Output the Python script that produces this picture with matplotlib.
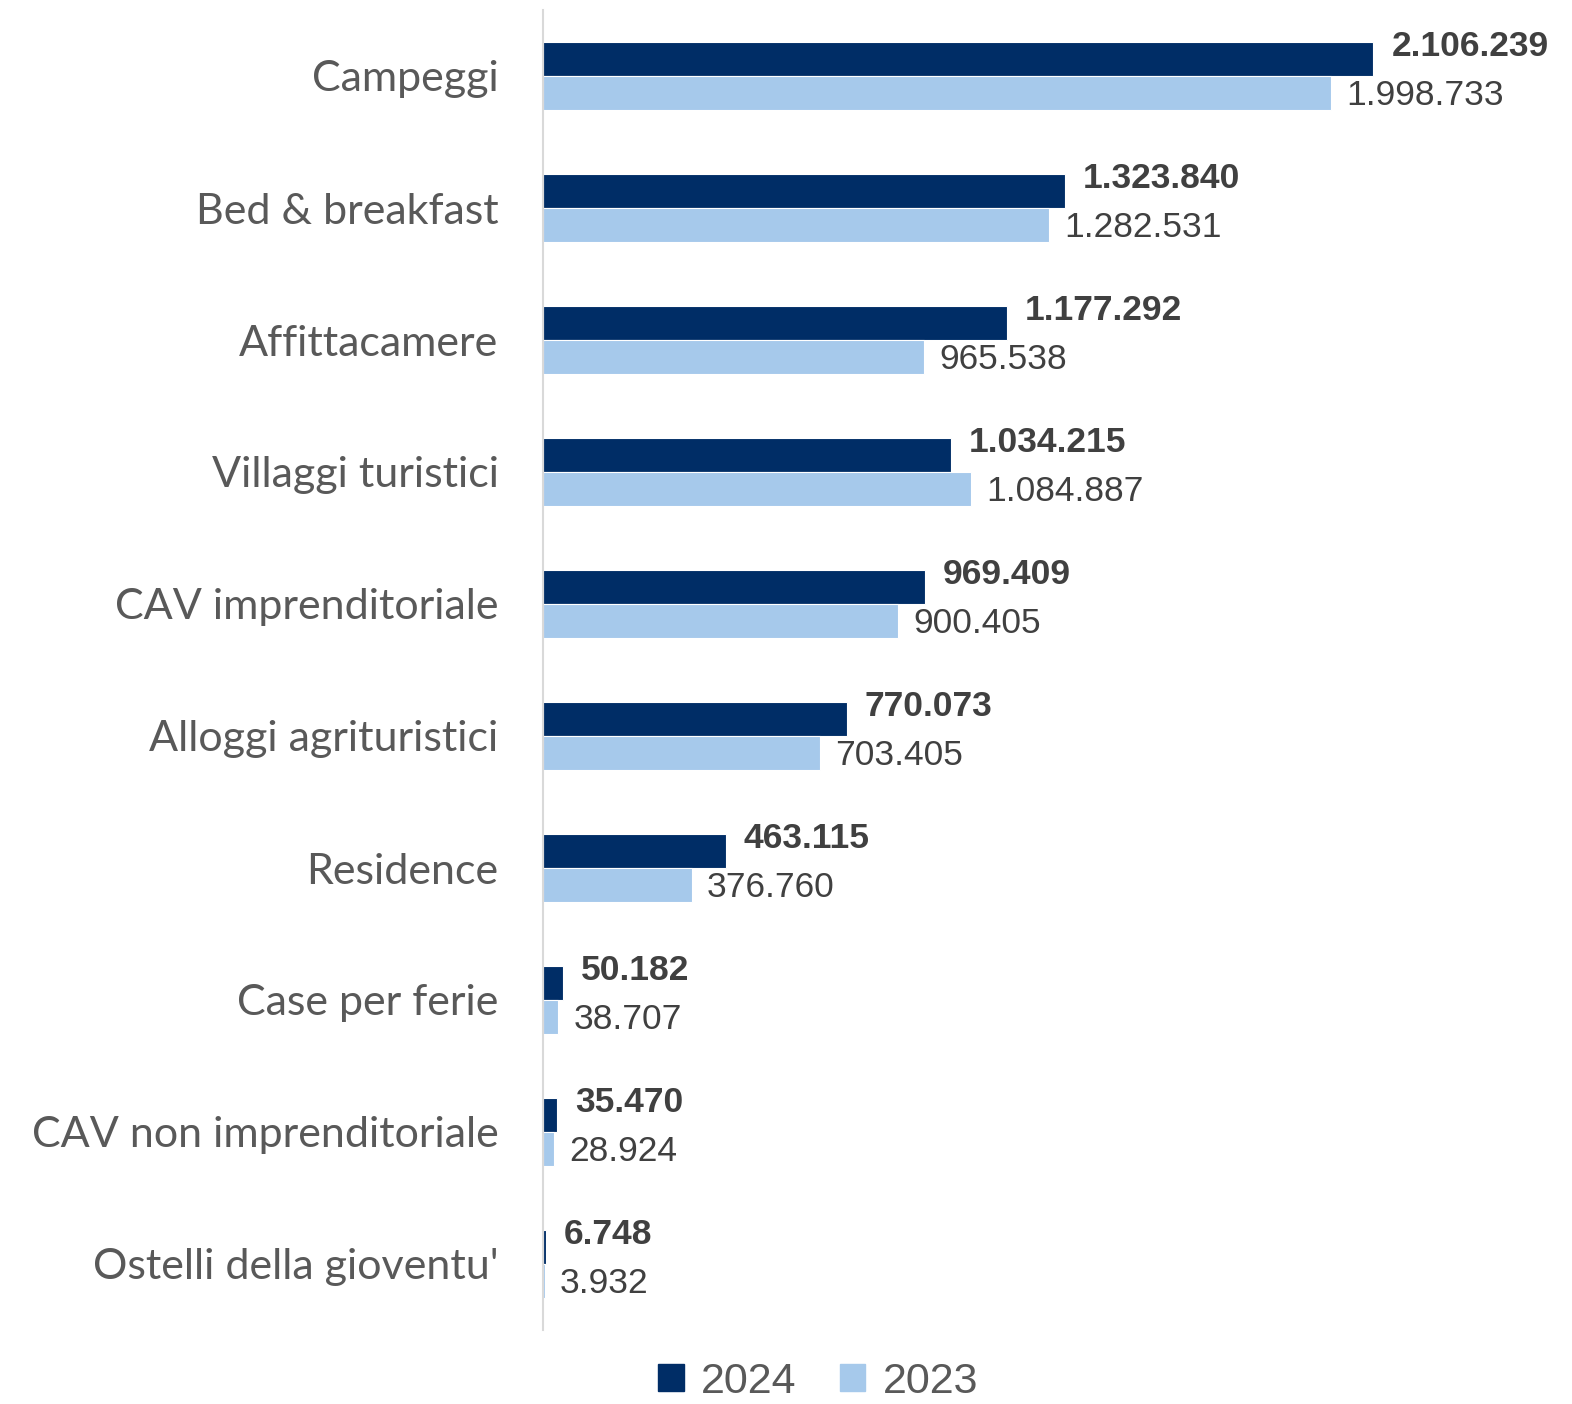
import matplotlib
matplotlib.use("Agg")
import matplotlib.pyplot as plt
import numpy as np
from matplotlib.patches import Patch

categories = ["Campeggi", "Bed & breakfast", "Affittacamere", "Villaggi turistici",
              "CAV imprenditoriale", "Alloggi agrituristici", "Residence",
              "Case per ferie", "CAV non imprenditoriale", "Ostelli della gioventu'"]
values_2024 = [2106239, 1323840, 1177292, 1034215, 969409, 770073, 463115, 50182, 35470, 6748]
values_2023 = [1998733, 1282531, 965538, 1084887, 900405, 703405, 376760, 38707, 28924, 3932]
series_labels = ["2024", "2023"]

def fmt(v):
    return f"{v:,}".replace(",", ".")

plt.rcParams['font.family'] = ['Liberation Sans', 'DejaVu Sans']
dark = "#002D66"
light = "#A6C9EB"
txt = "#404040"

fig = plt.figure(figsize=(15.72, 14.04), dpi=100)
ax = fig.add_axes([543/1572, 1-1330/1404, (1560-543)/1572, 1320/1404])

n = len(categories)
y = np.arange(n)
h = 0.258
ax.barh(y - h/2, values_2024, height=h, color=dark, edgecolor="white", linewidth=0.8)
ax.barh(y + h/2, values_2023, height=h, color=light, edgecolor="white", linewidth=0.8)
ax.set_ylim(n - 0.5, -0.5)
ax.set_xlim(0, 2580000)

for i in range(n):
    ax.annotate(fmt(values_2024[i]), (values_2024[i], y[i] - h/2), xytext=(13, 9),
                textcoords="offset points", ha="left", va="center",
                fontsize=25.5, fontweight="bold", color=txt)
    ax.annotate(fmt(values_2023[i]), (values_2023[i], y[i] + h/2), xytext=(11, -2),
                textcoords="offset points", ha="left", va="center",
                fontsize=25.5, color=txt)

ax.set_yticks(y)
ax.set_yticklabels(categories, fontsize=31, color="#595959", family=["Lato", "DejaVu Sans"])
ax.tick_params(axis="y", length=0, pad=32)
ax.set_xticks([])
for s in ["top", "right", "bottom"]:
    ax.spines[s].set_visible(False)
ax.spines["left"].set_color("#D9D9D9")
ax.spines["left"].set_linewidth(1.5)

handles = [Patch(color=dark), Patch(color=light)]
fig.legend(handles, series_labels, loc="center", bbox_to_anchor=(818/1572, 1-1382/1404),
           ncol=2, frameon=False, fontsize=31, labelcolor="#595959",
           handlelength=0.6, handleheight=0.6, handletextpad=0.4, columnspacing=1.0)

fig.savefig("out.png", dpi=100, facecolor="white")
